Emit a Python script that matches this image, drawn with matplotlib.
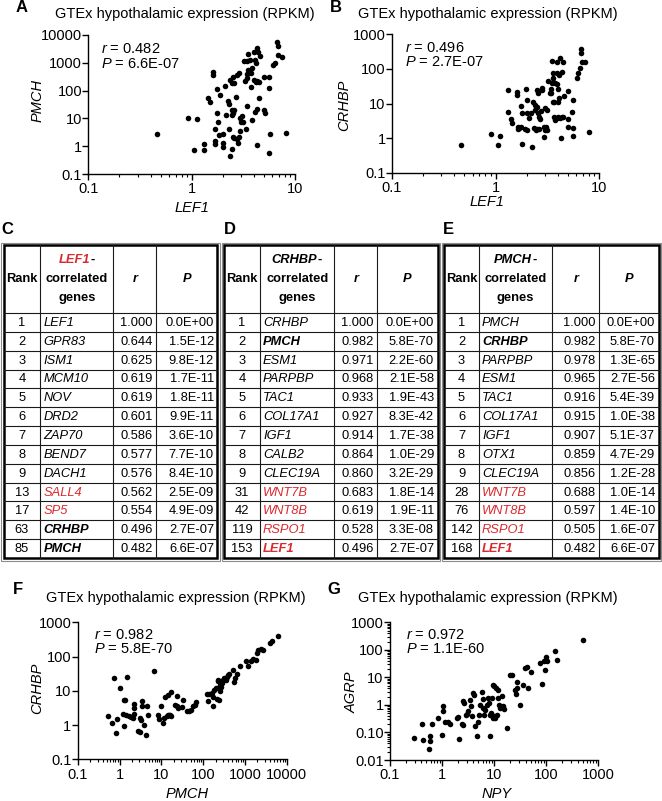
import matplotlib
matplotlib.use('Agg')
import matplotlib.pyplot as plt
import matplotlib.ticker as mticker

plt.rcParams['font.family'] = ['Liberation Sans', 'DejaVu Sans']
plt.rcParams['mathtext.fontset'] = 'custom'
plt.rcParams['mathtext.rm'] = 'Liberation Sans'
plt.rcParams['mathtext.it'] = 'Liberation Sans:italic'
plt.rcParams['mathtext.bf'] = 'Liberation Sans:bold'

# ---------------- data ----------------
A_lef1 = [0.46, 0.92, 1.12, 1.05, 1.32, 1.33, 1.60, 1.62, 1.45, 1.49,
          1.77, 1.88, 1.77, 1.79, 1.68, 1.70, 1.68, 1.84, 2.00, 2.03,
          2.03, 2.10, 2.14, 2.27, 2.30, 2.28, 2.35, 2.44, 2.53, 2.59,
          2.77, 2.87, 2.44, 2.53, 2.46, 2.67, 2.59, 2.35, 2.46, 2.53,
          2.59, 2.73, 2.85, 2.79, 2.94, 2.94, 3.00, 3.10, 3.16, 3.41,
          3.36, 3.29, 3.41, 3.46, 3.54, 3.67, 3.76, 3.87, 3.23, 3.46,
          3.67, 4.11, 3.54, 4.02, 4.32, 4.42, 4.59, 4.17, 3.73, 4.05,
          4.20, 4.32, 4.49, 3.81, 4.11, 4.26, 4.52, 4.26, 5.06, 5.13,
          5.06, 5.65, 5.65, 5.74, 5.65, 6.18, 6.41, 6.76, 6.81, 6.91,
          7.44, 8.20]
A_pmch = [2.75, 10.6, 9.8, 0.73, 0.73, 1.20, 480, 365, 56, 40,
          111, 69, 15.2, 7.6, 4.2, 1.54, 1.17, 2.53, 2.75, 1.27,
          0.96, 146, 13.2, 42, 33, 4.2, 240, 193, 317, 183,
          365, 420, 19.5, 15.2, 13.2, 60, 20, 0.44, 0.81, 2.2,
          1.92, 1.82, 2.2, 1.34, 3.5, 10.6, 7.6, 12.2, 7.6, 28,
          4.2, 221, 292, 385, 550, 480, 420, 630, 1190, 1190,
          1260, 1260, 2080, 2520, 3320, 2380, 1760, 960, 139, 240,
          209, 221, 209, 8.7, 17.5, 21, 56, 1.10, 20, 15.2,
          317, 317, 121, 2.75, 0.58, 830, 1010, 5750, 4020, 1910,
          1570, 3.07]

B_lef1 = [0.46, 0.905, 1.105, 1.05, 1.31, 1.60, 1.63, 1.95, 1.31, 1.40,
          1.45, 1.64, 1.70, 1.76, 1.66, 1.82, 1.75, 1.79, 2.00, 2.03,
          2.12, 1.93, 2.00, 2.23, 2.20, 2.32, 2.40, 2.42, 2.50, 2.50,
          2.55, 2.79, 2.83, 2.59, 2.65, 2.69, 2.35, 2.44, 2.50, 2.65,
          2.73, 2.94, 3.00, 3.07, 3.12, 2.94, 3.17, 3.00, 3.36, 3.43,
          3.51, 3.62, 3.75, 3.96, 4.04, 3.56, 3.24, 3.41, 3.62, 3.96,
          4.14, 4.42, 3.56, 3.67, 4.04, 4.14, 3.48, 3.96, 4.20, 4.45,
          3.67, 3.75, 3.96, 4.20, 4.04, 4.36, 4.98, 5.48, 4.26, 4.52,
          5.05, 4.59, 5.57, 4.98, 5.65, 5.57, 6.18, 6.22, 6.55, 6.85,
          6.65, 6.70, 7.33, 8.05]
B_crhbp = [0.63, 1.28, 1.15, 0.63, 24.5, 17.6, 22, 27, 5.5, 3.5,
           2.8, 2.14, 2.0, 2.05, 1.83, 0.67, 8.5, 5.2, 12.6, 5.2,
           3.7, 1.83, 1.71, 0.56, 5.4, 11.3, 9.0, 6.5, 8.1, 24.5,
           19.7, 29, 24.5, 5.2, 4.0, 3.5, 2.0, 1.71, 1.83, 1.79,
           6.1, 2.14, 1.71, 2.05, 1.71, 1.10, 6.5, 7.2, 19.7, 27,
           38, 43, 38, 37, 27, 53, 46, 20.6, 74, 74,
           67, 83, 11.3, 11.3, 11.3, 14.1, 169, 162, 211, 155,
           4.0, 3.3, 3.7, 3.9, 4.2, 4.2, 3.5, 5.5, 1.03, 4.0,
           23.5, 16.8, 12.6, 2.05, 1.91, 1.15, 53, 74, 104, 162,
           282, 376, 162, 1.47]

F_pmch = [0.52, 0.65, 0.81, 0.89, 0.75, 1.26, 1.05, 1.30, 1.38, 1.48,
          1.24, 1.43, 1.85, 1.72, 2.22, 2.22, 2.26, 2.14, 2.82, 3.09,
          4.30, 3.39, 3.52, 4.46, 4.72, 3.09, 3.27, 3.93, 6.81, 8.18,
          8.81, 9.66, 11.2, 11.4, 12.3, 14.7, 14.2, 15.3, 16.1, 17.1,
          13.4, 17.1, 21.3, 23.3, 23.7, 25.5, 30.7, 33.6, 40.4, 46.0,
          51.3, 58.3, 64.0, 67.6, 122, 138, 160, 133, 169, 176,
          186, 203, 223, 231, 211, 240, 254, 268, 254, 294,
          322, 347, 366, 401, 424, 510, 549, 580, 636, 764,
          1060, 1210, 1370, 1590, 1810, 1910, 2100, 2430, 2660, 3980,
          4370, 6080, 278]
F_crhbp = [1.88, 1.12, 0.59, 1.54, 24, 0.96, 12.1, 5.5, 5.3, 26,
           2.15, 2.0, 1.72, 1.88, 4.1, 3.1, 2.15, 1.61, 0.66, 0.61,
           0.52, 4.9, 3.7, 3.5, 2.0, 1.61, 1.44, 0.98, 39, 2.0,
           1.47, 3.5, 1.15, 1.61, 6.6, 7.7, 2.0, 1.92, 1.92, 1.80,
           1.80, 9.0, 3.9, 6.9, 3.5, 3.1, 3.3, 5.3, 2.5, 2.6,
           2.8, 3.5, 3.9, 4.7, 8.1, 8.1, 8.6, 5.2, 3.5, 6.6,
           10.8, 12.1, 19, 21, 5.9, 5.5, 15.1, 12.6, 9.6, 21,
           24, 20, 25, 28, 30, 40, 17.7, 24, 31, 52,
           72, 52, 72, 87, 81, 127, 159, 170, 159, 249,
           278, 389, 16.9]

G_npy = [0.289, 0.436, 0.405, 0.561, 0.586, 0.586, 0.631, 0.848, 1.01, 1.06,
         1.06, 1.14, 1.32, 1.42, 1.91, 2.05, 2.14, 2.45, 2.48, 2.56,
         2.63, 2.87, 2.96, 3.19, 3.43, 3.59, 3.70, 3.98, 4.16, 4.28,
         4.74, 4.96, 5.18, 5.34, 5.75, 6.01, 6.19, 6.66, 6.37, 7.16,
         7.71, 8.07, 8.30, 8.30, 8.94, 8.68, 9.35, 9.62, 9.91, 10.4,
         9.62, 9.91, 10.8, 12.0, 12.6, 12.9, 13.9, 15.0, 15.6, 11.5,
         12.0, 17.9, 20.1, 21.6, 25.1, 26.2, 27.0, 27.8, 31.3, 35.2,
         39.0, 43.3, 43.9, 50.8, 75.7, 81.5, 90.3, 98.7, 94.4, 105,
         147, 158, 499]
G_agrp = [0.063, 0.052, 0.21, 0.025, 0.050, 0.072, 0.21, 0.33, 0.083, 0.89,
          0.58, 0.25, 0.23, 0.20, 0.33, 0.36, 0.058, 0.20, 0.18, 1.35,
          1.17, 0.42, 0.47, 0.58, 1.55, 0.89, 0.38, 2.7, 2.35, 0.17,
          0.076, 0.25, 0.44, 0.96, 2.9, 0.77, 1.68, 0.67, 0.42, 0.96,
          1.78, 1.17, 0.44, 0.076, 1.78, 0.51, 0.33, 0.36, 0.38, 0.33,
          5.4, 4.7, 4.1, 1.78, 0.96, 0.77, 2.05, 0.89, 0.73, 0.44,
          3.6, 0.15, 12.5, 11.9, 3.6, 2.5, 6.6, 4.1, 1.02, 5.4,
          22, 24, 4.1, 15.7, 33, 5.7, 40, 53, 19, 38,
          88, 44, 234]

# tick values / labels
ticks_01_10 = [0.1, 1, 10]
ticks_01_1000 = [0.1, 1, 10, 100, 1000]
ticks_01_10000 = [0.1, 1, 10, 100, 1000, 10000]
labels_01_10 = ['0.1', '1', '10']
labels_01_1000 = ['0.1', '1', '10', '100', '1000']
labels_01_10000 = ['0.1', '1', '10', '100', '1000', '10000']
ticks_001_1000 = [0.01, 0.1, 1, 10, 100, 1000]
labels_001_1000 = ['0.01', '0.10', '1', '10', '100', '1000']

# tables
C_rank = [1, 2, 3, 4, 5, 6, 7, 8, 9, 13, 17, 63, 85]
C_gene = ['LEF1', 'GPR83', 'ISM1', 'MCM10', 'NOV', 'DRD2', 'ZAP70', 'BEND7',
          'DACH1', 'SALL4', 'SP5', 'CRHBP', 'PMCH']
C_r = ['1.000', '0.644', '0.625', '0.619', '0.619', '0.601', '0.586', '0.577',
       '0.576', '0.562', '0.554', '0.496', '0.482']
C_p = ['0.0E+00', '1.5E-12', '9.8E-12', '1.7E-11', '1.8E-11', '9.9E-11',
       '3.6E-10', '7.7E-10', '8.4E-10', '2.5E-09', '4.9E-09', '2.7E-07', '6.6E-07']
C_red = ['SALL4', 'SP5']
C_bold = ['CRHBP', 'PMCH']

D_rank = [1, 2, 3, 4, 5, 6, 7, 8, 9, 31, 42, 119, 153]
D_gene = ['CRHBP', 'PMCH', 'ESM1', 'PARPBP', 'TAC1', 'COL17A1', 'IGF1', 'CALB2',
          'CLEC19A', 'WNT7B', 'WNT8B', 'RSPO1', 'LEF1']
D_r = ['1.000', '0.982', '0.971', '0.968', '0.933', '0.927', '0.914', '0.864',
       '0.860', '0.683', '0.619', '0.528', '0.496']
D_p = ['0.0E+00', '5.8E-70', '2.2E-60', '2.1E-58', '1.9E-43', '8.3E-42',
       '1.7E-38', '1.0E-29', '3.2E-29', '1.8E-14', '1.9E-11', '3.3E-08', '2.7E-07']
D_red = ['WNT7B', 'WNT8B', 'RSPO1', 'LEF1']
D_bold = ['PMCH', 'LEF1']

E_rank = [1, 2, 3, 4, 5, 6, 7, 8, 9, 28, 76, 142, 168]
E_gene = ['PMCH', 'CRHBP', 'PARPBP', 'ESM1', 'TAC1', 'COL17A1', 'IGF1', 'OTX1',
          'CLEC19A', 'WNT7B', 'WNT8B', 'RSPO1', 'LEF1']
E_r = ['1.000', '0.982', '0.978', '0.965', '0.916', '0.915', '0.907', '0.859',
       '0.856', '0.688', '0.597', '0.505', '0.482']
E_p = ['0.0E+00', '5.8E-70', '1.3E-65', '2.7E-56', '5.4E-39', '1.0E-38',
       '5.1E-37', '4.7E-29', '1.2E-28', '1.0E-14', '1.4E-10', '1.6E-07', '6.6E-07']
E_red = ['WNT7B', 'WNT8B', 'RSPO1', 'LEF1']
E_bold = ['CRHBP', 'LEF1']

RED = '#d92a2f'

# ---------------- figure ----------------
W, H = 662, 801
fig = plt.figure(figsize=(W / 100, H / 100), dpi=100)


def fx(px):
    return px / W


def fy(py):
    return 1 - py / H


def ftext(px, py, s, **kw):
    fig.text(fx(px), fy(py), s, **kw)


def scatter_panel(rect, x, y, xlim, ylim, xt, xtl, yt, ytl, yminor):
    l, t, r, b = rect
    ax = fig.add_axes([fx(l), fy(b), (r - l) / W, (b - t) / H])
    ax.scatter(x, y, s=16, c='black', linewidths=0, clip_on=False, zorder=3)
    ax.set_xscale('log')
    ax.set_yscale('log')
    ax.set_xlim(xlim)
    ax.set_ylim(ylim)
    for s in ['top', 'right']:
        ax.spines[s].set_visible(False)
    for s in ['left', 'bottom']:
        ax.spines[s].set_linewidth(1.0)
    ax.xaxis.set_major_locator(mticker.FixedLocator(xt))
    ax.xaxis.set_major_formatter(mticker.FixedFormatter(xtl))
    ax.xaxis.set_minor_locator(mticker.LogLocator(base=10, subs=range(2, 10), numticks=20))
    ax.xaxis.set_minor_formatter(mticker.NullFormatter())
    ax.yaxis.set_major_locator(mticker.FixedLocator(yt))
    ax.yaxis.set_major_formatter(mticker.FixedFormatter(ytl))
    if yminor:
        ax.yaxis.set_minor_locator(mticker.LogLocator(base=10, subs=range(2, 10), numticks=20))
    else:
        ax.yaxis.set_minor_locator(mticker.NullLocator())
    ax.yaxis.set_minor_formatter(mticker.NullFormatter())
    ax.tick_params(which='major', length=4, width=1.0, labelsize=10.5, direction='out')
    ax.tick_params(which='minor', length=2, width=0.8, direction='out')
    ax.tick_params(axis='x', which='major', pad=2)
    ax.tick_params(axis='y', which='major', pad=0.5)
    return ax


TITLE = 'GTEx hypothalamic expression (RPKM)'

# Panel A
scatter_panel((88.3, 35, 295, 174), A_lef1, A_pmch, (0.1, 10), (0.1, 10000),
              ticks_01_10, labels_01_10, ticks_01_10000, labels_01_10000, False)
ftext(22, 8, 'A', fontsize=12, fontweight='bold', ha='center', va='center')
ftext(185, 14, TITLE, fontsize=10.5, ha='center', va='center')
ftext(101, 49, r'$r$ = 0.482', fontsize=10.5, ha='left', va='center')
ftext(101, 64, r'$P$ = 6.6E-07', fontsize=10.5, ha='left', va='center')
ftext(192, 208, 'LEF1', fontsize=10.5, style='italic', ha='center', va='center')
ftext(38, 100, 'PMCH', fontsize=10.5, style='italic', ha='center', va='center', rotation=90)

# Panel B
scatter_panel((392, 34.3, 599, 172.7), B_lef1, B_crhbp, (0.1, 10), (0.1, 1000),
              ticks_01_10, labels_01_10, ticks_01_1000, labels_01_1000, False)
ftext(336, 8, 'B', fontsize=12, fontweight='bold', ha='center', va='center')
ftext(488, 14, TITLE, fontsize=10.5, ha='center', va='center')
ftext(405, 48, r'$r$ = 0.496', fontsize=10.5, ha='left', va='center')
ftext(405, 62, r'$P$ = 2.7E-07', fontsize=10.5, ha='left', va='center')
ftext(487, 202, 'LEF1', fontsize=10.5, style='italic', ha='center', va='center')
ftext(344, 105, 'CRHBP', fontsize=10.5, style='italic', ha='center', va='center', rotation=90)

# Panel F
scatter_panel((77.7, 622.3, 286.7, 759.3), F_pmch, F_crhbp, (0.1, 10000), (0.1, 1000),
              ticks_01_10000, labels_01_10000, ticks_01_1000, labels_01_1000, False)
ftext(18, 590, 'F', fontsize=12, fontweight='bold', ha='center', va='center')
ftext(176, 598, TITLE, fontsize=10.5, ha='center', va='center')
ftext(94, 635, r'$r$ = 0.982', fontsize=10.5, ha='left', va='center')
ftext(94, 649, r'$P$ = 5.8E-70', fontsize=10.5, ha='left', va='center')
ftext(187, 794, 'PMCH', fontsize=10.5, style='italic', ha='center', va='center')
ftext(37, 688, 'CRHBP', fontsize=10.5, style='italic', ha='center', va='center', rotation=90)

# Panel G
scatter_panel((390, 622.3, 598.3, 760), G_npy, G_agrp, (0.1, 1000), (0.01, 1000),
              ticks_01_1000, labels_01_1000, ticks_001_1000, labels_001_1000, True)
ftext(334, 590, 'G', fontsize=12, fontweight='bold', ha='center', va='center')
ftext(488, 598, TITLE, fontsize=10.5, ha='center', va='center')
ftext(406, 635, r'$r$ = 0.972', fontsize=10.5, ha='left', va='center')
ftext(406, 649, r'$P$ = 1.1E-60', fontsize=10.5, ha='left', va='center')
ftext(497, 794, 'NPY', fontsize=10.5, style='italic', ha='center', va='center')
ftext(352, 692, 'AGRP', fontsize=10.5, style='italic', ha='center', va='center', rotation=90)


# ---------------- tables ----------------
def draw_table(letter, letter_x, l, t, r, b, colw, head_gene, head_color,
               ranks, genes, rvals, pvals, reds, bolds):
    ftext(letter_x, 230, letter, fontsize=12, fontweight='bold', ha='center', va='center')
    # outer gray frame
    ax0 = fig.add_axes([fx(l - 2.5), fy(b + 2.5), (r - l + 5) / W, (b - t + 5) / H])
    ax0.set_xlim(0, 1)
    ax0.set_ylim(0, 1)
    ax0.axis('off')
    ax0.add_patch(plt.Rectangle((0, 0), 1, 1, fill=False, ec='#8c8c8c', lw=0.8,
                                transform=ax0.transAxes, clip_on=False))
    ax = fig.add_axes([fx(l), fy(b), (r - l) / W, (b - t) / H])
    tw, th = r - l, b - t
    ax.set_xlim(0, tw)
    ax.set_ylim(th, 0)
    ax.axis('off')
    n = len(ranks)
    hh = 68.0
    rh = (th - hh) / n
    xs = [0]
    for w in colw:
        xs.append(xs[-1] + w)
    scale = tw / xs[-1]
    xs = [v * scale for v in xs]
    # grid
    for xv in xs[1:-1]:
        ax.plot([xv, xv], [0, th], color='#1a1a1a', lw=0.8, clip_on=False)
    for i in range(n):
        yv = hh + i * rh
        ax.plot([0, tw], [yv, yv], color='#1a1a1a', lw=0.8, clip_on=False)
    ax.add_patch(plt.Rectangle((0, 0), tw, th, fill=False, ec='black', lw=1.8, clip_on=False))
    fs = 9.3
    # header
    ax.text((xs[0] + xs[1]) / 2, hh / 2, 'Rank', fontsize=fs, fontweight='bold',
            ha='center', va='center')
    cx = (xs[1] + xs[2]) / 2
    tg = ax.text(cx - 2.5, 15, head_gene, fontsize=fs, fontweight='bold', style='italic',
                 color=head_color, ha='center', va='center')
    ax.annotate('-', xy=(1, 0.5), xycoords=tg, xytext=(0.1, 0), textcoords='offset points',
                fontsize=fs, fontweight='bold', ha='left', va='center', color='black')
    ax.text(cx, 34, 'correlated', fontsize=fs, fontweight='bold', ha='center', va='center')
    ax.text(cx, 53, 'genes', fontsize=fs, fontweight='bold', ha='center', va='center')
    ax.text((xs[2] + xs[3]) / 2, hh / 2, 'r', fontsize=fs, fontweight='bold',
            style='italic', ha='center', va='center')
    ax.text((xs[3] + xs[4]) / 2, hh / 2, 'P', fontsize=fs, fontweight='bold',
            style='italic', ha='center', va='center')
    # rows
    for i in range(n):
        yc = hh + (i + 0.5) * rh + 0.5
        ax.text((xs[0] + xs[1]) / 2, yc, str(ranks[i]), fontsize=fs, ha='center', va='center')
        g = genes[i]
        ax.text(xs[1] + 3, yc, g, fontsize=fs, style='italic',
                fontweight='bold' if g in bolds else 'normal',
                color=RED if g in reds else 'black', ha='left', va='center')
        ax.text(xs[3] - 3.5, yc, rvals[i], fontsize=fs, ha='right', va='center')
        ax.text(xs[4] - 3.5, yc, pvals[i], fontsize=fs, ha='right', va='center')


draw_table('C', 7, 3.5, 245, 217.5, 558, [37, 73, 43, 61], 'LEF1', RED,
           C_rank, C_gene, C_r, C_p, C_red, C_bold)
draw_table('D', 230, 224, 245, 437.5, 558, [36, 74, 43, 60], 'CRHBP', 'black',
           D_rank, D_gene, D_r, D_p, D_red, D_bold)
draw_table('E', 448, 444, 245, 658.5, 558, [35, 73, 47, 59], 'PMCH', 'black',
           E_rank, E_gene, E_r, E_p, E_red, E_bold)

fig.savefig('out.png', dpi=100)
